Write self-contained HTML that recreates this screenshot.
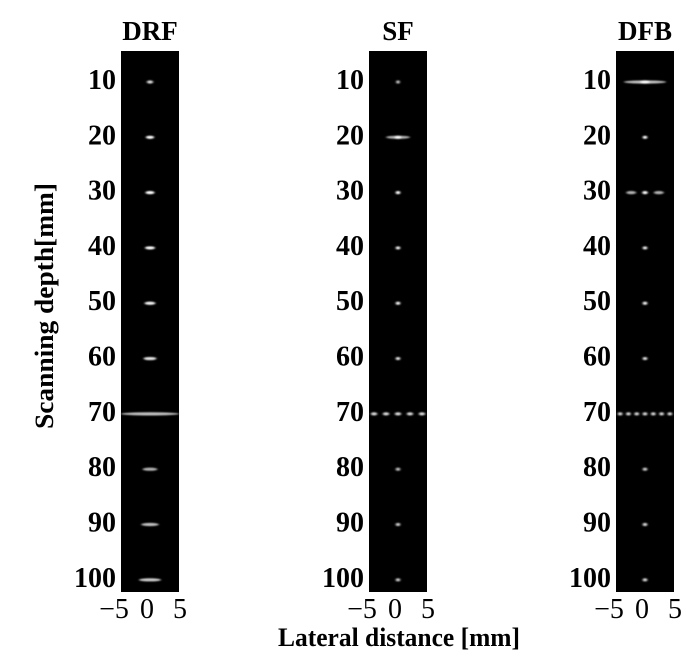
<!DOCTYPE html>
<html><head><meta charset="utf-8"><style>
html,body{margin:0;padding:0;background:#fff;}
svg{display:block;font-family:"Liberation Serif",serif;}
</style></head><body>
<svg id="chart" width="700" height="657" viewBox="0 0 700 657">
<defs>
<filter id="blur" x="-50%" y="-200%" width="200%" height="500%"><feGaussianBlur stdDeviation="1.1 0.9"/></filter>
</defs>
<text x="53" y="306" transform="rotate(-90 53 306)" text-anchor="middle" font-size="26" font-weight="bold" textLength="246" lengthAdjust="spacingAndGlyphs">Scanning depth[mm]</text>
<text x="399" y="646" text-anchor="middle" font-size="26" font-weight="bold" textLength="242" lengthAdjust="spacingAndGlyphs">Lateral distance [mm]</text>
<g id="panels"></g>
</svg>
<script>
const panelTitles = ["DRF", "SF", "DFB"];
const yTicks = [10, 20, 30, 40, 50, 60, 70, 80, 90, 100];
const xTicks = [-5, 0, 5];
const xTickLabels = ["\u22125", "0", "5"];
// spots per panel: depth (mm), lateral centre (mm), half-width (mm), brightness (0-1)
const drfDepth = [10, 20, 30, 40, 50, 60, 70, 80, 90, 100];
const drfLat   = [0, 0, 0, 0, 0, 0, 0, 0, 0, 0];
const drfHalf  = [0.7, 0.9, 1.0, 1.1, 1.2, 1.4, 6.5, 1.6, 1.9, 2.4];
const drfLevel = [0.85, 1, 1, 1, 0.95, 0.9, 0.75, 0.7, 0.75, 0.8];
const sfDepth = [10, 20, 20, 30, 40, 50, 60, 70, 70, 70, 70, 70, 80, 90, 100];
const sfLat   = [0, 0, 0, 0, 0, 0, 0, -5.2, -2.6, 0, 2.6, 5.2, 0, 0, 0];
const sfHalf  = [0.4, 2.6, 0.7, 0.5, 0.5, 0.5, 0.5, 0.7, 0.7, 0.7, 0.7, 0.7, 0.5, 0.5, 0.5];
const sfLevel = [0.8, 0.7, 1, 1, 0.95, 0.95, 0.9, 0.85, 0.85, 0.85, 0.85, 0.85, 0.75, 0.8, 0.8];
const dfbDepth = [10, 10, 20, 30, 30, 30, 40, 50, 60, 70, 70, 70, 70, 70, 70, 70, 80, 90, 100];
const dfbLat   = [0, 0, 0, -3, 0, 3, 0, 0, 0, -5.4, -3.6, -1.8, 0, 1.8, 3.6, 5.4, 0, 0, 0];
const dfbHalf  = [4.6, 1.0, 0.5, 1.1, 0.6, 1.1, 0.5, 0.5, 0.5, 0.5, 0.5, 0.5, 0.5, 0.5, 0.5, 0.5, 0.5, 0.5, 0.5];
const dfbLevel = [0.75, 1, 1, 0.7, 1, 0.7, 0.95, 0.95, 0.9, 0.85, 0.85, 0.85, 0.85, 0.85, 0.85, 0.85, 0.8, 0.85, 0.85];

const panelSpots = [
  [drfDepth, drfLat, drfHalf, drfLevel],
  [sfDepth, sfLat, sfHalf, sfLevel],
  [dfbDepth, dfbLat, dfbHalf, dfbLevel]
];
const NS = "http://www.w3.org/2000/svg";
const panelLeft = [121, 369, 616];
const pw = 58, pTop = 51, pBottom = 592;
const yMin = 4.4, yMax = 102.2, xMin = -6.3, xMax = 6.3;
const labelPxPerMm = 6.6;
const yScale = d => pTop + (d - yMin) / (yMax - yMin) * (pBottom - pTop);
function mk(tag, attrs, parent) {
  const e = document.createElementNS(NS, tag);
  for (const k in attrs) e.setAttribute(k, attrs[k]);
  parent.appendChild(e);
  return e;
}
const root = document.getElementById("panels");
panelTitles.forEach((title, p) => {
  const L = panelLeft[p];
  const xScale = v => L + (v - xMin) / (xMax - xMin) * pw;
  const g = mk("g", {}, root);
  
  
  const bg = mk("rect", {x: L, y: pTop, width: pw, height: pBottom - pTop, fill: "#000"}, g);
  
  
  const t = mk("text", {x: L + pw / 2, y: 40, "text-anchor": "middle", "font-size": 27, "font-weight": "bold"}, g);
  t.textContent = title;
  
  
  yTicks.forEach(v => {
    const tx = mk("text", {x: L - 5, y: yScale(v) + 7, "text-anchor": "end", "font-size": 28, "font-weight": "bold"}, g);
    tx.textContent = v;
    
    
  });
  xTicks.forEach((v, i) => {
    const tx = mk("text", {x: L + 26 + v * labelPxPerMm, y: 618, "text-anchor": "middle", "font-size": 28}, g);
    tx.textContent = xTickLabels[i];
    
    
  });
  const [D, X, H, B] = panelSpots[p];
  const sg = mk("g", {filter: "url(#blur)"}, g);
  
  
  D.forEach((d, i) => {
    const x0 = Math.max(xScale(X[i] - H[i]), L), x1 = Math.min(xScale(X[i] + H[i]), L + pw);
    const c = Math.round(255 * B[i]);
    const e = mk("ellipse", {cx: (x0 + x1) / 2, cy: yScale(d), rx: (x1 - x0) / 2, ry: 1.6, fill: `rgb(${c},${c},${c})`}, sg);
    
    
  });
});
</script>
</body></html>
